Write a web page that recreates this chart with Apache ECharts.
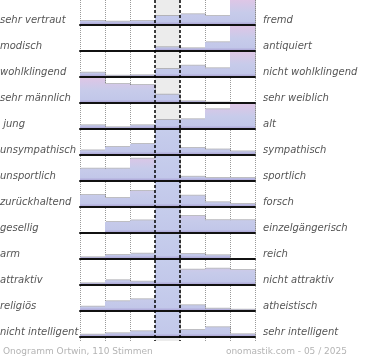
<!DOCTYPE html>
<html><head><meta charset="utf-8">
<script src="https://cdn.jsdelivr.net/npm/echarts@6/dist/echarts.min.js"></script>
<style>html,body{margin:0;padding:0;background:#fff}#c{width:370px;height:360px}</style>
</head><body><div id="c"></div>
<script>
// Onogramm Ortwin, 110 Stimmen — share of votes (%) per scale step
const leftLabels  = ['sehr vertraut','modisch','wohlklingend','sehr männlich',' jung','unsympathisch','unsportlich','zurückhaltend','gesellig','arm','attraktiv','religiös','nicht intelligent'];
const rightLabels = ['fremd','antiquiert','nicht wohlklingend','sehr weiblich','alt','sympathisch','sportlich','forsch','einzelgängerisch','reich','nicht attraktiv','atheistisch','sehr intelligent'];
const steps = ['1','2','3','4','5','6','7'];

const vertrautFremd      = [4.4, 3.6, 4.4, 9.9, 11.8, 9.9, 56.0];
const modischAntiquiert  = [0, 0, 0, 4.1, 3.0, 9.6, 83.3];
const wohlklingend       = [4.7, 1.4, 1.9, 8.8, 12.4, 9.6, 61.2];
const maennlichWeiblich  = [47.8, 20.9, 19.8, 9.1, 1.9, 0.5, 0];
const jungAlt            = [4.1, 1.9, 4.1, 9.9, 10.7, 21.7, 47.6];
const sympathisch        = [5.0, 8.8, 12.1, 56.5, 7.7, 6.0, 3.9];
const sportlich          = [13.5, 13.5, 24.5, 37.3, 4.6, 3.3, 3.3];
const zurueckhaltendForsch = [13.2, 9.9, 17.6, 38.4, 12.4, 5.2, 3.3];
const geselligEinzel     = [0, 12.1, 13.8, 27.2, 18.7, 14.1, 14.1];
const armReich           = [1.9, 4.4, 5.8, 78.3, 5.5, 4.1, 0];
const attraktiv          = [1.9, 5.2, 3.6, 38.1, 16.8, 17.9, 16.5];
const religioesAtheist   = [4.7, 10.7, 12.9, 61.5, 6.3, 2.5, 1.4];
const intelligent        = [2.5, 4.1, 6.3, 65.7, 7.7, 10.7, 3.0];

const rows = [vertrautFremd, modischAntiquiert, wohlklingend, maennlichWeiblich, jungAlt, sympathisch,
  sportlich, zurueckhaltendForsch, geselligEinzel, armReich, attraktiv, religioesAtheist, intelligent];

const CAP = 27.5;          // visible top of each row strip
const PLOT_L = 80, PLOT_W = 175, PITCH = 26, STRIP = 25;

const stopsSide = [[0,'#dec6e6'],[0.5,'#c7cbea'],[0.86,'#c2c7e9'],[1,'#a69bd1']];
const stopsMid  = [[0,'#c6cdec'],[0.86,'#c2c8ea'],[1,'#a69bd1']];
function hex2rgb(h){return [parseInt(h.slice(1,3),16),parseInt(h.slice(3,5),16),parseInt(h.slice(5,7),16)];}
function colorAt(stops,g){
  for(let i=1;i<stops.length;i++){
    if(g<=stops[i][0]){
      const a=stops[i-1], b=stops[i]; const t=(g-a[0])/(b[0]-a[0]||1);
      const ca=hex2rgb(a[1]), cb=hex2rgb(b[1]);
      return 'rgb('+ca.map((v,k)=>Math.round(v+(cb[k]-v)*t)).join(',')+')';
    }
  }
  return stops[stops.length-1][1];
}
function barGradient(v, mid){
  const stops = mid ? stopsMid : stopsSide;
  const frac = Math.max(0.001, Math.min(v, CAP)/CAP);
  const g0 = 1-frac;
  const cs = [{offset:0,color:colorAt(stops,g0)}];
  stops.forEach(s=>{ if(s[0]>g0+1e-6) cs.push({offset:Math.min(1,Math.max(0,(s[0]-g0)/frac)),color:s[1]}); });
  return new echarts.graphic.LinearGradient(0,0,0,1,cs);
}

const grid=[], xAxis=[], yAxis=[], series=[];
const noBounds={outerBoundsMode:'none',containLabel:false};
// frame grid: background column, dotted and dashed separators
grid.push(Object.assign({left:PLOT_L, width:PLOT_W, top:0, height:341},noBounds));
const hideAx = {axisLine:{show:false},axisTick:{show:false},axisLabel:{show:false}};
const tr='rgba(0,0,0,0)';
xAxis.push(Object.assign({type:'value',gridIndex:0,min:0,max:7,interval:1,z:0,
  splitLine:{show:true,lineStyle:{color:['#9a9a9a','#9a9a9a','#9a9a9a',tr,tr,'#9a9a9a','#9a9a9a','#9a9a9a'],type:[1,1],width:1}},
  splitArea:{show:true,areaStyle:{color:[tr,tr,tr,'#ececec',tr,tr,tr]}}},hideAx));
xAxis.push(Object.assign({type:'value',gridIndex:0,min:0,max:7,interval:1,z:20,position:'top',
  splitLine:{show:true,lineStyle:{color:[tr,tr,tr,'#000','#000',tr,tr,tr],type:[3,2],width:1.5}}},hideAx));
yAxis.push(Object.assign({type:'value',gridIndex:0,min:0,max:1,splitLine:{show:false}},hideAx));

// label grid
grid.push(Object.assign({left:PLOT_L, width:PLOT_W, top:7, height:PITCH*13},noBounds));
xAxis.push(Object.assign({type:'value',gridIndex:1,splitLine:{show:false}},hideAx));
const lblStyle={color:'#555',fontStyle:'italic',fontSize:10,fontFamily:'DejaVu Sans'};
yAxis.push({type:'category',gridIndex:1,inverse:true,position:'left',data:leftLabels,
  axisLine:{show:false},axisTick:{show:false},
  axisLabel:Object.assign({align:'left',margin:PLOT_L},lblStyle)});
yAxis.push({type:'category',gridIndex:1,inverse:true,position:'right',data:rightLabels,
  axisLine:{show:false},axisTick:{show:false},
  axisLabel:Object.assign({align:'left',margin:8},lblStyle)});

rows.forEach((vals,i)=>{
  const gi=i+2;
  grid.push(Object.assign({left:PLOT_L,width:PLOT_W,top:i*PITCH,height:STRIP},noBounds));
  xAxis.push({type:'category',gridIndex:gi,data:steps,boundaryGap:true,z:15,
    axisLine:{show:true,lineStyle:{color:'#111',width:2}},axisTick:{show:false},axisLabel:{show:false},splitLine:{show:false}});
  yAxis.push(Object.assign({type:'value',gridIndex:gi,min:0,max:CAP,splitLine:{show:false}},hideAx));
  series.push({type:'bar',xAxisIndex:gi+1,yAxisIndex:gi+1,barWidth:'100%',barCategoryGap:0,clip:true,
    silent:true,z:5,
    data:vals.map((v,k)=>({value:v,itemStyle:{color:barGradient(v,k===3),
      shadowColor:'rgba(110,110,120,0.45)',shadowOffsetX:1,shadowOffsetY:-1,shadowBlur:0}}))});
});

const footStyle={fontSize:9,fontWeight:'normal',color:'#b4b4b4',fontFamily:'DejaVu Sans'};
const chart=echarts.init(document.getElementById('c'),null,{renderer:'canvas'});
chart.setOption({
  animation:false,
  title:[
    {text:'Onogramm Ortwin, 110 Stimmen',left:3,top:347,padding:0,textStyle:footStyle},
    {text:'onomastik.com - 05 / 2025',right:23,top:347,padding:0,textStyle:footStyle}
  ],
  grid:grid, xAxis:xAxis, yAxis:yAxis, series:series
});
</script></body></html>
